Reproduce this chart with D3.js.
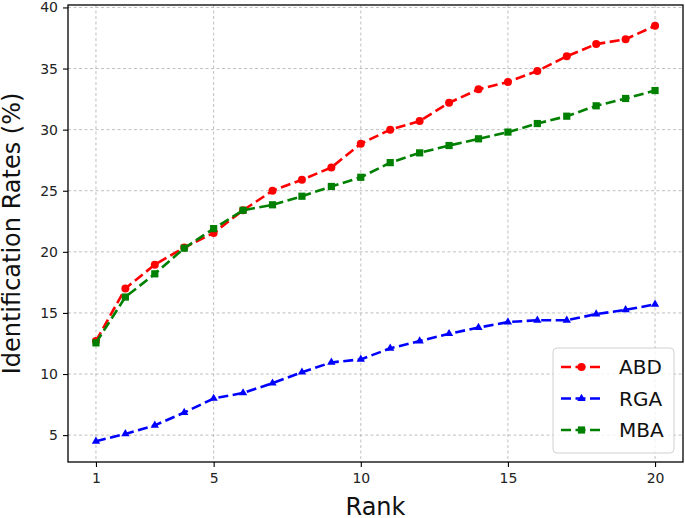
<!DOCTYPE html>
<html>
<head>
<meta charset="utf-8">
<script src="https://cdn.jsdelivr.net/npm/d3@7"></script>
<style>
  body { margin: 0; background: #fff; }
  svg { display: block; font-family: "DejaVu Sans", sans-serif; }
</style>
</head>
<body>
<script>
// data
var ranks = d3.range(1, 21);
var abd = [12.7, 17.0, 18.95, 20.35, 21.55, 23.4, 25.0, 25.9, 26.9, 28.85, 30.0, 30.7, 32.2, 33.3, 33.9, 34.8, 36.0, 37.0, 37.4, 38.5];
var rga = [4.5, 5.1, 5.8, 6.85, 8.0, 8.45, 9.25, 10.15, 10.95, 11.2, 12.1, 12.7, 13.3, 13.8, 14.25, 14.4, 14.4, 14.9, 15.25, 15.7];
var mba = [12.55, 16.3, 18.2, 20.3, 21.9, 23.4, 23.85, 24.55, 25.35, 26.1, 27.3, 28.1, 28.7, 29.25, 29.8, 30.5, 31.1, 31.95, 32.55, 33.2];
var xTicks = [1, 5, 10, 15, 20];
var yTicks = [5, 10, 15, 20, 25, 30, 35, 40];
var seriesNames = ["ABD", "RGA", "MBA"];

var w = 685, h = 518;
// plot area (window.top is reserved, so prefixed names)
var pLeft = 68, pRight = 683, pTop = 5, pBottom = 462;

var series = [
  { name: "ABD", values: abd, color: "#ff0000", marker: "circle" },
  { name: "RGA", values: rga, color: "#0000ff", marker: "triangle" },
  { name: "MBA", values: mba, color: "#008000", marker: "square" }
];

var svg = d3.select("body").append("svg")
  .attr("width", w)
  .attr("height", h);

// matplotlib style 5% margins
var xScale = d3.scaleLinear().domain([0.05, 20.95]).range([pLeft, pRight]);
var yMin = d3.min(rga), yMax = d3.max(abd);
var pad = (yMax - yMin) * 0.05;
var yScale = d3.scaleLinear().domain([yMin - pad, yMax + pad]).range([pBottom, pTop]);

// grid
var grid = svg.append("g");
grid.selectAll(".gx").data(xTicks).enter().append("line")
  .attr("x1", d => xScale(d)).attr("x2", d => xScale(d))
  .attr("y1", pTop).attr("y2", pBottom)
  .attr("stroke", "#b0b0b0").attr("stroke-width", 0.8).attr("stroke-dasharray", "3,2.5");
grid.selectAll(".gy").data(yTicks).enter().append("line")
  .attr("x1", pLeft).attr("x2", pRight)
  .attr("y1", d => yScale(d)).attr("y2", d => yScale(d))
  .attr("stroke", "#b0b0b0").attr("stroke-width", 0.8).attr("stroke-dasharray", "3,2.5");

// axes
var xAxis = d3.axisBottom(xScale).tickValues(xTicks).tickSize(5).tickPadding(6);
var yAxis = d3.axisLeft(yScale).tickValues(yTicks).tickSize(5).tickPadding(5);

var gx = svg.append("g").attr("transform", "translate(0," + pBottom + ")").call(xAxis);
var gy = svg.append("g").attr("transform", "translate(" + pLeft + ",0)").call(yAxis);
[gx, gy].forEach(function(g) {
  g.select(".domain").remove();
  g.selectAll(".tick line").attr("stroke", "#000").attr("stroke-width", 1.1);
  g.selectAll(".tick text").attr("fill", "#222").style("font-size", "14px")
    .style("font-family", "DejaVu Sans");
});

// frame
svg.append("rect")
  .attr("x", pLeft).attr("y", pTop)
  .attr("width", pRight - pLeft).attr("height", pBottom - pTop)
  .attr("fill", "none").attr("stroke", "#000").attr("stroke-width", 1.3);

// lines
var line = d3.line()
  .x((d, i) => xScale(ranks[i]))
  .y(d => yScale(d));

function drawMarker(g, type, color) {
  if (type === "circle") {
    g.append("circle").attr("r", 4).attr("fill", color);
  } else if (type === "triangle") {
    g.append("path").attr("d", d3.symbol(d3.symbolTriangle, 30)()).attr("fill", color);
  } else {
    g.append("rect").attr("x", -3.6).attr("y", -3.6).attr("width", 7.2).attr("height", 7.2).attr("fill", color);
  }
}

series.forEach(function(s) {
  svg.append("path")
    .datum(s.values)
    .attr("d", line)
    .attr("fill", "none")
    .attr("stroke", s.color)
    .attr("stroke-width", 2.6)
    .attr("stroke-dasharray", "10,4.5");

  svg.selectAll(".m-" + s.name)
    .data(s.values)
    .enter()
    .append("g")
    .attr("transform", (d, i) => "translate(" + xScale(ranks[i]) + "," + yScale(d) + ")")
    .each(function() { drawMarker(d3.select(this), s.marker, s.color); });
});

// axis labels
svg.append("text")
  .attr("x", (pLeft + pRight) / 2)
  .attr("y", 515)
  .attr("text-anchor", "middle")
  .style("font-size", "24px")
  .attr("fill", "#111")
  .text("Rank");

svg.append("text")
  .attr("transform", "translate(20," + (pTop + pBottom) / 2 + ") rotate(-90)")
  .attr("text-anchor", "middle")
  .style("font-size", "24px")
  .attr("fill", "#111")
  .text("Identification Rates (%)");

// legend
var legend = svg.append("g");
legend.append("rect")
  .attr("x", 553).attr("y", 348)
  .attr("width", 121).attr("height", 105)
  .attr("rx", 4)
  .attr("fill", "#fff").attr("fill-opacity", 0.8)
  .attr("stroke", "#d0d0d0").attr("stroke-width", 1);

series.forEach(function(s, i) {
  var yy = 367 + i * 31.5;
  legend.append("line")
    .attr("x1", 561).attr("x2", 602)
    .attr("y1", yy).attr("y2", yy)
    .attr("stroke", s.color).attr("stroke-width", 2.6)
    .attr("stroke-dasharray", "10,4.5");
  var m = legend.append("g").attr("transform", "translate(581.5," + yy + ")");
  drawMarker(m, s.marker, s.color);
  legend.append("text")
    .attr("x", 619).attr("y", yy + 7)
    .style("font-size", "20px")
    .attr("fill", "#111")
    .text(seriesNames[i]);
});
</script>
</body>
</html>
